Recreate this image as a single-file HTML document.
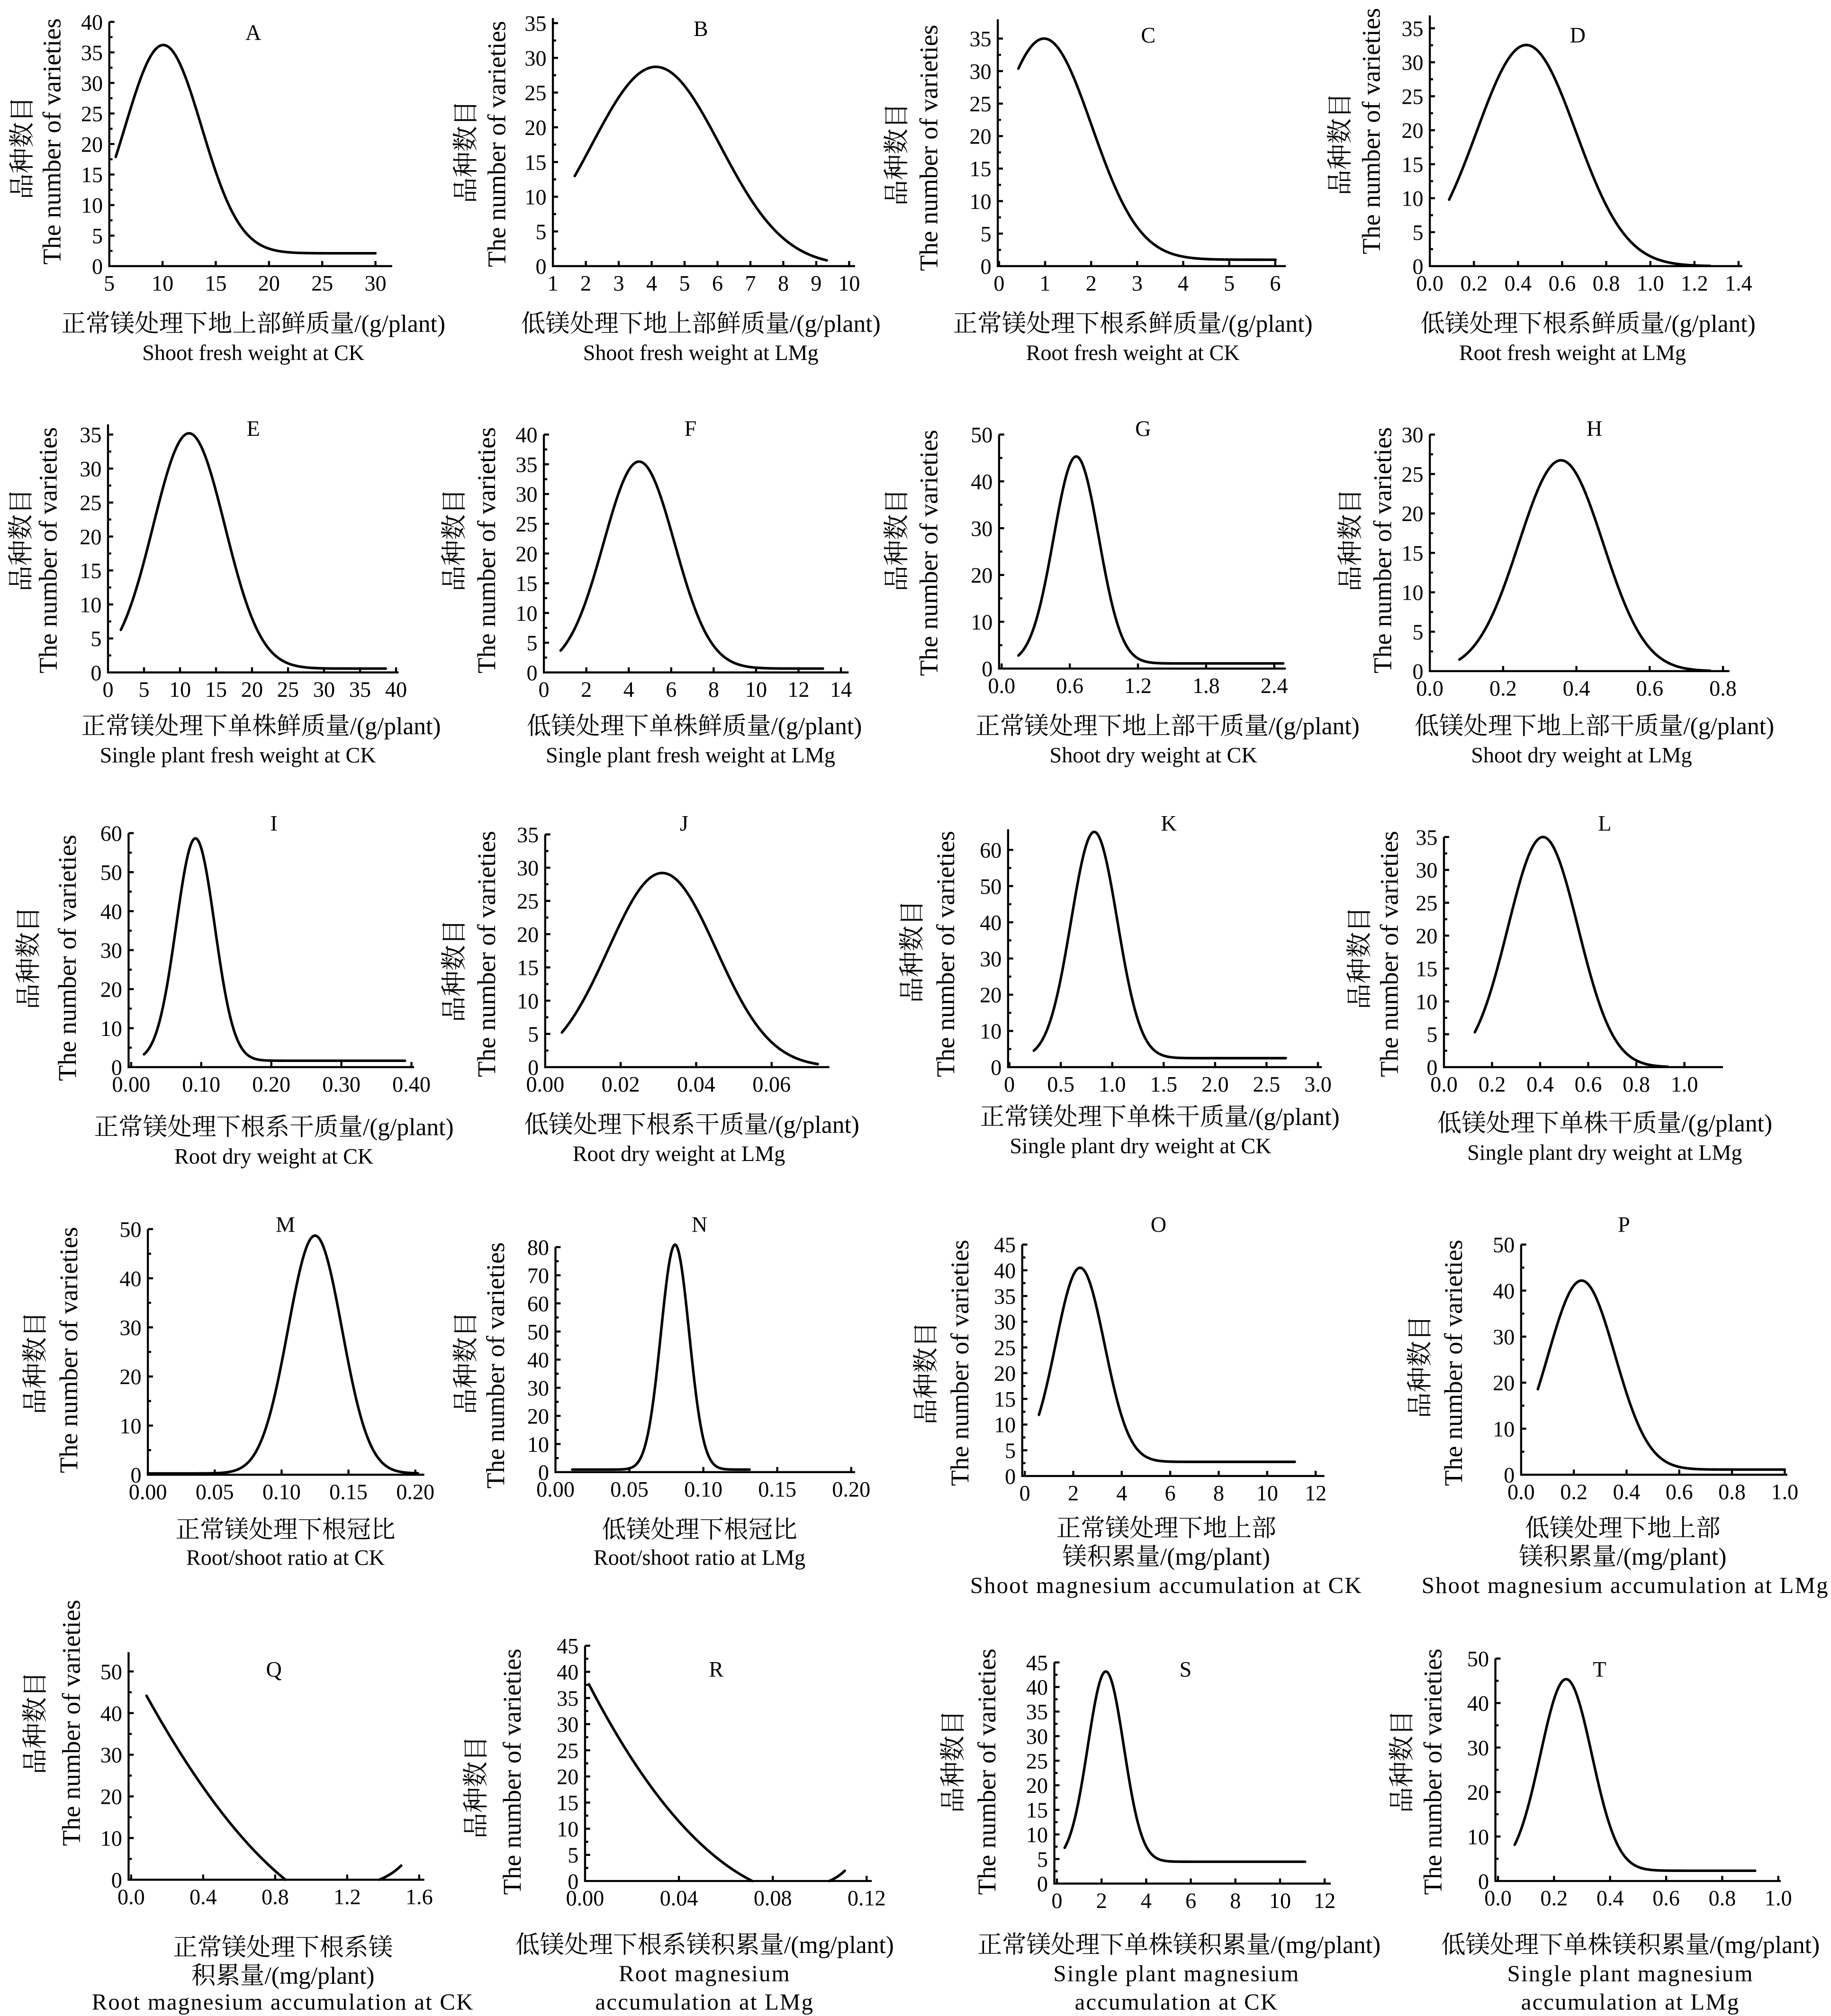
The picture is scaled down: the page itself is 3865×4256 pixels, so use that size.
<!DOCTYPE html>
<html><head><meta charset="utf-8">
<style>
html,body{margin:0;padding:0;background:#fff;}
svg{display:block;}
text{font-family:"Liberation Serif","Noto Serif CJK SC",serif;fill:#000;}
.t{font-size:17px;}
.tt{font-size:17px;text-anchor:middle;}
.cn{font-size:19px;text-anchor:middle;}
.en{font-size:17px;text-anchor:middle;}
.en2{font-size:18px;text-anchor:middle;letter-spacing:0.8px;}
.yl{font-size:20px;text-anchor:middle;}
.ti{font-size:17px;text-anchor:middle;}
</style></head>
<body>
<svg id="s" width="3865" height="4256" viewBox="0 0 1424 1568" preserveAspectRatio="none" xmlns="http://www.w3.org/2000/svg">
<g id="g"></g>
<text class="ti" x="197" y="31">A</text>
<text class="ti" x="545" y="28">B</text>
<text class="ti" x="893" y="33">C</text>
<text class="ti" x="1227" y="33">D</text>
<text class="ti" x="197" y="339">E</text>
<text class="ti" x="537" y="339">F</text>
<text class="ti" x="889" y="339">G</text>
<text class="ti" x="1240" y="339">H</text>
<text class="ti" x="213" y="646">I</text>
<text class="ti" x="532" y="646">J</text>
<text class="ti" x="909" y="646">K</text>
<text class="ti" x="1248" y="646">L</text>
<text class="ti" x="222" y="958">M</text>
<text class="ti" x="544" y="958">N</text>
<text class="ti" x="901" y="958">O</text>
<text class="ti" x="1263" y="958">P</text>
<text class="ti" x="213" y="1304">Q</text>
<text class="ti" x="557" y="1304">R</text>
<text class="ti" x="922" y="1304">S</text>
<text class="ti" x="1244" y="1304">T</text>
<g class="yl">
<text transform="translate(24,115) rotate(-90)">品种数目</text>
<text transform="translate(47,110) rotate(-90)">The number of varieties</text>
<text transform="translate(369,118) rotate(-90)">品种数目</text>
<text transform="translate(393,112) rotate(-90)">The number of varieties</text>
<text transform="translate(704,120) rotate(-90)">品种数目</text>
<text transform="translate(729,115) rotate(-90)">The number of varieties</text>
<text transform="translate(1049,112) rotate(-90)">品种数目</text>
<text transform="translate(1073,102) rotate(-90)">The number of varieties</text>
<text transform="translate(23,420) rotate(-90)">品种数目</text>
<text transform="translate(44,428) rotate(-90)">The number of varieties</text>
<text transform="translate(360,420) rotate(-90)">品种数目</text>
<text transform="translate(385,428) rotate(-90)">The number of varieties</text>
<text transform="translate(704,420) rotate(-90)">品种数目</text>
<text transform="translate(729,430) rotate(-90)">The number of varieties</text>
<text transform="translate(1057,420) rotate(-90)">品种数目</text>
<text transform="translate(1082,428) rotate(-90)">The number of varieties</text>
<text transform="translate(29,745) rotate(-90)">品种数目</text>
<text transform="translate(59,745) rotate(-90)">The number of varieties</text>
<text transform="translate(360,755) rotate(-90)">品种数目</text>
<text transform="translate(385,742) rotate(-90)">The number of varieties</text>
<text transform="translate(716,740) rotate(-90)">品种数目</text>
<text transform="translate(742,742) rotate(-90)">The number of varieties</text>
<text transform="translate(1064,745) rotate(-90)">品种数目</text>
<text transform="translate(1087,742) rotate(-90)">The number of varieties</text>
<text transform="translate(34,1060) rotate(-90)">品种数目</text>
<text transform="translate(60,1050) rotate(-90)">The number of varieties</text>
<text transform="translate(369,1060) rotate(-90)">品种数目</text>
<text transform="translate(392,1062) rotate(-90)">The number of varieties</text>
<text transform="translate(727,1068) rotate(-90)">品种数目</text>
<text transform="translate(753,1060) rotate(-90)">The number of varieties</text>
<text transform="translate(1111,1063) rotate(-90)">品种数目</text>
<text transform="translate(1137,1060) rotate(-90)">The number of varieties</text>
<text transform="translate(34,1340) rotate(-90)">品种数目</text>
<text transform="translate(62,1340) rotate(-90)">The number of varieties</text>
<text transform="translate(377,1390) rotate(-90)">品种数目</text>
<text transform="translate(405,1378) rotate(-90)">The number of varieties</text>
<text transform="translate(748,1370) rotate(-90)">品种数目</text>
<text transform="translate(774,1378) rotate(-90)">The number of varieties</text>
<text transform="translate(1097,1370) rotate(-90)">品种数目</text>
<text transform="translate(1121,1378) rotate(-90)">The number of varieties</text>
</g>
<text class="cn" x="197" y="258">正常镁处理下地上部鲜质量/(g/plant)</text>
<text class="en" x="197" y="280">Shoot fresh weight at CK</text>
<text class="cn" x="545" y="258">低镁处理下地上部鲜质量/(g/plant)</text>
<text class="en" x="545" y="280">Shoot fresh weight at LMg</text>
<text class="cn" x="881" y="258">正常镁处理下根系鲜质量/(g/plant)</text>
<text class="en" x="881" y="280">Root fresh weight at CK</text>
<text class="cn" x="1235" y="258">低镁处理下根系鲜质量/(g/plant)</text>
<text class="en" x="1223" y="280">Root fresh weight at LMg</text>
<text class="cn" x="203" y="571">正常镁处理下单株鲜质量/(g/plant)</text>
<text class="en" x="185" y="593">Single plant fresh weight at CK</text>
<text class="cn" x="540" y="571">低镁处理下单株鲜质量/(g/plant)</text>
<text class="en" x="537" y="593">Single plant fresh weight at LMg</text>
<text class="cn" x="908" y="571">正常镁处理下地上部干质量/(g/plant)</text>
<text class="en" x="897" y="593">Shoot dry weight at CK</text>
<text class="cn" x="1240" y="571">低镁处理下地上部干质量/(g/plant)</text>
<text class="en" x="1230" y="593">Shoot dry weight at LMg</text>
<text class="cn" x="213" y="883">正常镁处理下根系干质量/(g/plant)</text>
<text class="en" x="213" y="905">Root dry weight at CK</text>
<text class="cn" x="538" y="881">低镁处理下根系干质量/(g/plant)</text>
<text class="en" x="528" y="903">Root dry weight at LMg</text>
<text class="cn" x="902" y="875">正常镁处理下单株干质量/(g/plant)</text>
<text class="en" x="887" y="897">Single plant dry weight at CK</text>
<text class="cn" x="1248" y="880">低镁处理下单株干质量/(g/plant)</text>
<text class="en" x="1248" y="902">Single plant dry weight at LMg</text>
<text class="cn" x="222" y="1196">正常镁处理下根冠比</text>
<text class="en" x="222" y="1217">Root/shoot ratio at CK</text>
<text class="cn" x="544" y="1196">低镁处理下根冠比</text>
<text class="en" x="544" y="1217">Root/shoot ratio at LMg</text>
<text class="cn" x="907" y="1195">正常镁处理下地上部</text>
<text class="cn" x="907" y="1217">镁积累量/(mg/plant)</text>
<text class="en2" x="907" y="1239">Shoot magnesium accumulation at CK</text>
<text class="cn" x="1262" y="1195">低镁处理下地上部</text>
<text class="cn" x="1262" y="1217">镁积累量/(mg/plant)</text>
<text class="en2" x="1264" y="1239">Shoot magnesium accumulation at LMg</text>
<text class="cn" x="220" y="1521">正常镁处理下根系镁</text>
<text class="cn" x="220" y="1543">积累量/(mg/plant)</text>
<text class="en2" x="220" y="1563">Root magnesium accumulation at CK</text>
<text class="cn" x="548" y="1519">低镁处理下根系镁积累量/(mg/plant)</text>
<text class="en2" x="548" y="1541">Root magnesium</text>
<text class="en2" x="548" y="1563">accumulation at LMg</text>
<text class="cn" x="917" y="1519">正常镁处理下单株镁积累量/(mg/plant)</text>
<text class="en2" x="915" y="1541">Single plant magnesium</text>
<text class="en2" x="915" y="1563">accumulation at CK</text>
<text class="cn" x="1268" y="1519">低镁处理下单株镁积累量/(mg/plant)</text>
<text class="en2" x="1268" y="1541">Single plant magnesium</text>
<text class="en2" x="1268" y="1563">accumulation at LMg</text>
</svg>
<script>
function X(a,s,n){var r=[];for(var i=0;i<n;i++)r.push(a+i*s);return r;}
var P=[
{ax:85,y0:207,yt:17,top:17,yl:['0','5','10','15','20','25','30','35','40'],xp:X(85,41.4,6),xl:['5','10','15','20','25','30'],xe:305,c:{x0:90,x1:292,mu:127,s:29.8,yp:35,tail:197}},
{ax:430,y0:207,yt:18,top:14,yl:['0','5','10','15','20','25','30','35'],xp:X(430,25.6,10),xl:['1','2','3','4','5','6','7','8','9','10'],xe:665,c:{x0:447,x1:643,mu:510,s:50,yp:52,tail:207}},
{ax:776,y0:207,yt:30,top:15,yl:['0','5','10','15','20','25','30','35'],xp:X(777,35.8,7),xl:['0','1','2','3','4','5','6'],xe:1000,c:{x0:792,x1:992,mu:812,s:37,yp:30,tail:202}},
{ax:1112,y0:207,yt:22,top:12,yl:['0','5','10','15','20','25','30','35'],xp:X(1112,34.3,8),xl:['0.0','0.2','0.4','0.6','0.8','1.0','1.2','1.4'],xe:1355,c:{x0:1127,x1:1330,mu:1187,s:38.7,yp:35,tail:207}},
{ax:84,y0:523,yt:338,top:330,yl:['0','5','10','15','20','25','30','35'],xp:X(84,28,9),xl:['0','5','10','15','20','25','30','35','40'],xe:310,c:{x0:94,x1:300,mu:147,s:27.9,yp:337,tail:520}},
{ax:423,y0:523,yt:338,top:338,yl:['0','5','10','15','20','25','30','35','40'],xp:X(423,33,8),xl:['0','2','4','6','8','10','12','14'],xe:660,c:{x0:436,x1:640,mu:497,s:27.6,yp:359,tail:520}},
{ax:777,y0:520,yt:338,top:338,yl:['0','10','20','30','40','50'],xp:X(779,53,5),xl:['0.0','0.6','1.2','1.8','2.4'],xe:1000,c:{x0:792,x1:998,mu:837,s:17.6,yp:355,tail:516}},
{ax:1112,y0:522,yt:338,top:338,yl:['0','5','10','15','20','25','30'],xp:X(1112,57,5),xl:['0.0','0.2','0.4','0.6','0.8'],xe:1345,c:{x0:1135,x1:1330,mu:1214,s:32.8,yp:358,tail:522}},
{ax:100,y0:830,yt:648,top:648,yl:['0','10','20','30','40','50','60'],xp:X(102,54.5,5),xl:['0.00','0.10','0.20','0.30','0.40'],xe:322,c:{x0:112,x1:315,mu:152,s:15,yp:652,tail:825}},
{ax:424,y0:830,yt:649,top:649,yl:['0','5','10','15','20','25','30','35'],xp:X(424,58.7,4),xl:['0.00','0.02','0.04','0.06'],xe:645,c:{x0:437,x1:636,mu:515,s:42,yp:679,tail:830}},
{ax:784,y0:830,yt:661,top:645,yl:['0','10','20','30','40','50','60'],xp:X(785,40,7),xl:['0','0.5','1.0','1.5','2.0','2.5','3.0'],xe:1028,c:{x0:804,x1:1000,mu:851,s:18,yp:647,tail:823}},
{ax:1123,y0:830,yt:651,top:651,yl:['0','5','10','15','20','25','30','35'],xp:X(1123,37.4,6),xl:['0.0','0.2','0.4','0.6','0.8','1.0'],xe:1340,c:{x0:1147,x1:1297,mu:1200,s:27.3,yp:651,tail:830}},
{ax:115,y0:1147,yt:956,top:956,yl:['0','10','20','30','40','50'],xp:X(115,52,5),xl:['0.00','0.05','0.10','0.15','0.20'],xe:330,c:{x0:115,x1:325,mu:245,s:21,yp:961,tail:1146}},
{ax:432,y0:1145,yt:970,top:970,yl:['0','10','20','30','40','50','60','70','80'],xp:X(432,57.5,5),xl:['0.00','0.05','0.10','0.15','0.20'],xe:665,c:{x0:445,x1:583,mu:525,s:11,yp:968,tail:1143}},
{ax:795,y0:1148,yt:968,top:968,yl:['0','5','10','15','20','25','30','35','40','45'],xp:X(797,37.7,7),xl:['0','2','4','6','8','10','12'],xe:1030,c:{x0:808,x1:1007,mu:840,s:19,yp:986,tail:1137}},
{ax:1183,y0:1147,yt:968,top:968,yl:['0','10','20','30','40','50'],xp:X(1183,41,6),xl:['0.0','0.2','0.4','0.6','0.8','1.0'],xe:1390,c:{x0:1196,x1:1388,mu:1230,s:26,yp:996,tail:1143}},
{ax:100,y0:1462,yt:1300,top:1285,yl:['0','10','20','30','40','50'],xp:X(102,56,5),xl:['0.0','0.4','0.8','1.2','1.6'],xe:330,c:{d:'M114,1319 Q170,1420 222,1462 M295,1462 Q305,1458 312,1451'}},
{ax:455,y0:1463,yt:1280,top:1280,yl:['0','5','10','15','20','25','30','35','40','45'],xp:X(455,73,4),xl:['0.00','0.04','0.08','0.12'],xe:678,c:{d:'M458,1310 Q520,1430 585,1463 M645,1463 Q652,1460 657,1455'}},
{ax:820,y0:1465,yt:1293,top:1293,yl:['0','5','10','15','20','25','30','35','40','45'],xp:X(822,34.7,7),xl:['0','2','4','6','8','10','12'],xe:1035,c:{x0:828,x1:1015,mu:860,s:14,yp:1300,tail:1448}},
{ax:1163,y0:1463,yt:1290,top:1290,yl:['0','10','20','30','40','50'],xp:X(1165,43.6,6),xl:['0.0','0.2','0.4','0.6','0.8','1.0'],xe:1385,c:{x0:1178,x1:1365,mu:1218,s:20,yp:1306,tail:1455}}
];
var g=document.getElementById('g'),h='';
P.forEach(function(p){
 var d='M'+p.ax+','+p.top+'V'+p.y0+'H'+p.xe;
 var n=p.yl.length-1,sp=(p.y0-p.yt)/n;
 for(var i=0;i<=n;i++){var y=p.y0-i*sp;d+='M'+p.ax+','+y.toFixed(2)+'h4';
  if(i<n)d+='M'+p.ax+','+(y-sp/2).toFixed(2)+'h2.5';
  h+='<text class="t" text-anchor="end" x="'+(p.ax-5)+'" y="'+(y+6).toFixed(2)+'">'+p.yl[i]+'</text>';}
 p.xp.forEach(function(x,i){d+='M'+x.toFixed(2)+','+p.y0+'v-4';
  h+='<text class="tt" x="'+x.toFixed(2)+'" y="'+(p.y0+19)+'">'+p.xl[i]+'</text>';});
 h+='<path d="'+d+'" fill="none" stroke="#000" stroke-width="1.6"/>';
 var c=p.c,cd;
 if(c.d)cd=c.d;else{cd='';for(var x=c.x0;x<=c.x1+0.01;x+=1){var y=c.tail-(c.tail-c.yp)*Math.exp(-Math.pow(x-c.mu,2)/(2*c.s*c.s));cd+=(cd?'L':'M')+x.toFixed(1)+','+y.toFixed(2);}}
 h+='<path d="'+cd+'" fill="none" stroke="#000" stroke-width="2" stroke-linejoin="round" stroke-linecap="round"/>';
});
g.innerHTML=h;
</script>
</body></html>
